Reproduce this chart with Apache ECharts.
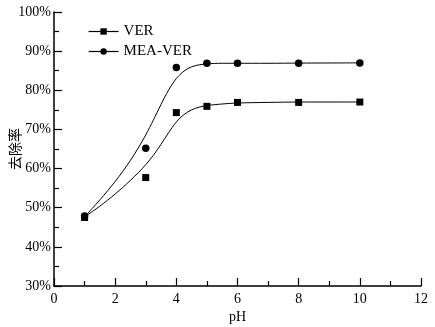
<!DOCTYPE html>
<html><head><meta charset="utf-8">
<script src="https://cdn.jsdelivr.net/npm/echarts@6/dist/echarts.min.js"></script>
<style>html,body{margin:0;padding:0;background:#fff}#c{width:435px;height:327px}</style>
</head><body><div id="c"></div>
<script>
const pH = [1, 3, 4, 5, 6, 8, 10];
const ver = [47.5, 57.7, 74.3, 75.9, 76.9, 76.9, 77.0];
const meaVer = [47.9, 65.2, 85.8, 86.9, 86.9, 86.9, 87.0];
const fitPH = [1, 1.25, 1.5, 1.75, 2, 2.25, 2.5, 2.75, 3, 3.25, 3.5, 3.75, 4, 4.25, 4.5, 4.75, 5, 5.5, 6, 7, 8, 10];
const verFit = [47.7, 49.0, 50.4, 51.9, 53.5, 55.2, 57.0, 58.9, 61.0, 63.4, 66.2, 69.2, 71.9, 73.8, 75.0, 75.7, 76.1, 76.5, 76.75, 76.9, 77.0, 77.0];
const meaFit = [47.7, 49.8, 52.0, 54.3, 56.7, 59.3, 62.1, 65.2, 68.6, 72.4, 76.4, 80.1, 83.0, 84.9, 86.0, 86.5, 86.75, 86.9, 86.9, 86.9, 86.95, 87.0];
const names = ['VER', 'MEA-VER'];

const pair = (xs, ys) => xs.map((x, i) => [x, ys[i]]);
const serif = "'Liberation Serif', 'Times New Roman', serif";
const chart = echarts.init(document.getElementById('c'));
chart.setOption({
  animation: false,
  backgroundColor: '#fff',
  grid: {left: 54, right: 14, top: 12, bottom: 41, containLabel: false, outerBoundsMode: 'none'},
  legend: {
    data: names, orient: 'vertical', left: 88, top: 24, itemGap: 5, padding: 0,
    itemWidth: 30, itemHeight: 8,
    textStyle: {fontFamily: serif, fontSize: 15, color: '#000'},
    lineStyle: {color: '#000', width: 1.2, opacity: 1}
  },
  xAxis: {
    type: 'value', min: 0, max: 12, interval: 2,
    name: 'pH', nameLocation: 'middle', nameGap: 24, nameMoveOverlap: false,
    nameTextStyle: {fontFamily: serif, fontSize: 14, color: '#000'},
    axisLine: {lineStyle: {color: '#000', width: 1.5}},
    axisTick: {inside: true, length: 8, lineStyle: {color: '#000', width: 1.2}},
    minorTick: {show: true, splitNumber: 2, length: 5, lineStyle: {color: '#000', width: 1.2}},
    axisLabel: {fontFamily: serif, fontSize: 14, color: '#000', margin: 6},
    splitLine: {show: false}
  },
  yAxis: {
    type: 'value', min: 30, max: 100, interval: 10,
    name: '去除率', nameLocation: 'middle', nameGap: 32, nameRotate: 90, nameMoveOverlap: false,
    nameTextStyle: {fontFamily: "'Noto Sans CJK SC'", fontSize: 14, color: '#000'},
    axisLine: {lineStyle: {color: '#000', width: 1.5}},
    axisTick: {inside: true, length: 8, lineStyle: {color: '#000', width: 1.2}},
    minorTick: {show: true, splitNumber: 2, length: 5, lineStyle: {color: '#000', width: 1.2}},
    axisLabel: {fontFamily: serif, fontSize: 14, color: '#000', margin: 3, formatter: '{value}%'},
    splitLine: {show: false}
  },
  series: [
    {name: 'VER', type: 'line', data: pair(pH, ver), symbol: 'rect', symbolSize: 7,
     itemStyle: {color: '#000'}, lineStyle: {opacity: 0}, z: 3},
    {name: 'MEA-VER', type: 'line', data: pair(pH, meaVer), symbol: 'circle', symbolSize: 7.5,
     itemStyle: {color: '#000'}, lineStyle: {opacity: 0}, z: 3},
    {name: 'VER fit', type: 'line', data: pair(fitPH, verFit), smooth: 0.3, showSymbol: false,
     lineStyle: {color: '#000', width: 1}},
    {name: 'MEA-VER fit', type: 'line', data: pair(fitPH, meaFit), smooth: 0.3, showSymbol: false,
     lineStyle: {color: '#000', width: 1}}
  ]
});
</script></body></html>
